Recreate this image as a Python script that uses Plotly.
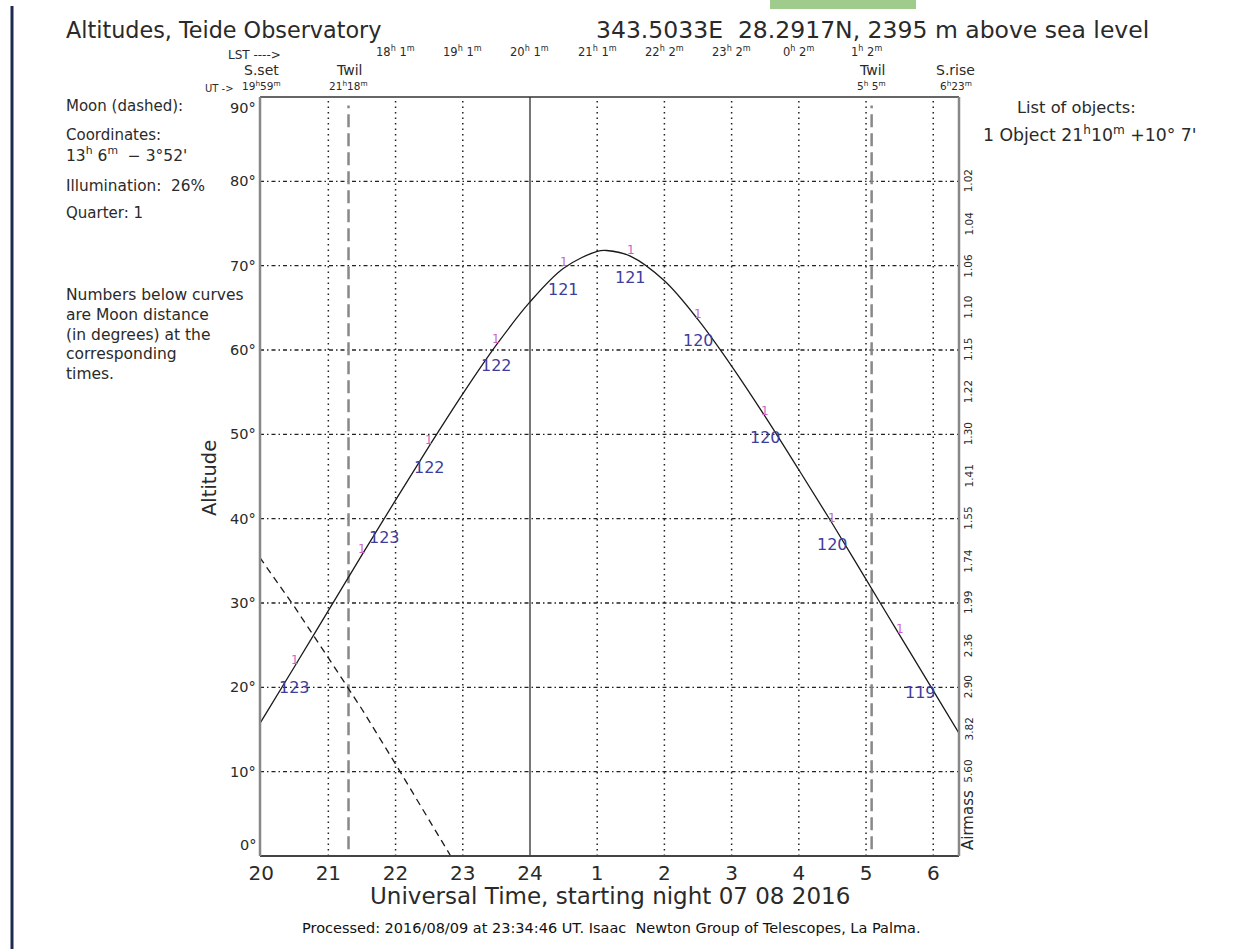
import plotly.graph_objects as go

# ---------------- data ----------------
obj_ut = [19.98, 20.5, 21, 21.5, 22, 22.5, 23, 23.5, 24, 24.5, 25, 25.14,
          25.5, 26, 26.5, 27, 27.5, 28, 28.5, 29, 29.5, 30, 30.38]
obj_alt = [15.7, 22.5, 29.1, 35.7, 42.2, 48.6, 54.8, 60.6, 65.7, 69.7, 71.7, 71.8,
           71.1, 68.2, 63.6, 58.1, 52.1, 45.8, 39.4, 32.8, 26.2, 19.6, 14.6]

moon_ut = [19.98, 20.5, 21, 21.5, 22, 22.5, 22.82]
moon_alt = [35.4, 29.5, 23.5, 17.4, 10.9, 4.3, 0.0]

label_ut = [20.5, 21.5, 22.5, 23.5, 24.5, 25.5, 26.5, 27.5, 28.5, 29.5]
label_alt = [22.5, 35.7, 48.6, 60.6, 69.7, 71.1, 63.6, 52.1, 39.4, 26.2]
moon_dist = [123, 123, 122, 122, 121, 121, 120, 120, 120, 119]

x_ticks = [20, 21, 22, 23, 24, 25, 26, 27, 28, 29, 30]
x_tick_text = ["20", "21", "22", "23", "24", "1", "2", "3", "4", "5", "6"]
y_ticks = [0, 10, 20, 30, 40, 50, 60, 70, 80, 90]
y_tick_text = ["0\u00b0", "10\u00b0", "20\u00b0", "30\u00b0", "40\u00b0",
               "50\u00b0", "60\u00b0", "70\u00b0", "80\u00b0", "90\u00b0"]

lst_ut = [22, 23, 24, 25, 26, 27, 28, 29]
lst_text = ["18<sup>h</sup> 1<sup>m</sup>", "19<sup>h</sup> 1<sup>m</sup>",
            "20<sup>h</sup> 1<sup>m</sup>", "21<sup>h</sup> 1<sup>m</sup>",
            "22<sup>h</sup> 2<sup>m</sup>", "23<sup>h</sup> 2<sup>m</sup>",
            "0<sup>h</sup> 2<sup>m</sup>", "1<sup>h</sup> 2<sup>m</sup>"]

twil_ut = [21.3, 29.083]
sun_set_ut = 19.983
sun_rise_ut = 30.383

airmass_alt = [80, 75, 70, 65, 60, 55, 50, 45, 40, 35, 30, 25, 20, 15, 10]
airmass_lbl = ["1.02", "1.04", "1.06", "1.10", "1.15", "1.22", "1.30", "1.41",
               "1.55", "1.74", "1.99", "2.36", "2.90", "3.82", "5.60"]

# ---------------- layout geometry ----------------
W, H = 1243, 949
L, R, T, B = 260, 959, 97, 856
FONT = "DejaVu Sans"
INK = "#2a2a2a"


def px(X):
    return (X - L) / (R - L)


def py(Y):
    return (B - Y) / (B - T)


fig = go.Figure()

fig.add_trace(go.Scatter(x=obj_ut, y=obj_alt, mode="lines", line_shape="spline",
                         line=dict(color="#1a1a1a", width=1.3), hoverinfo="skip",
                         showlegend=False))
fig.add_trace(go.Scatter(x=moon_ut, y=moon_alt, mode="lines",
                         line=dict(color="#1a1a1a", width=1.3, dash="7px,5px"),
                         hoverinfo="skip", showlegend=False))

shapes = []
# horizontal dash-dot grid
for yv in y_ticks[1:-1]:
    shapes.append(dict(type="line", xref="paper", yref="y", x0=0, x1=1, y0=yv, y1=yv,
                       line=dict(color="#222", width=1.4, dash="4px,3px,1.5px,3px"), layer="below"))
# vertical dotted grid
for xv in x_ticks[1:]:
    if xv == 24:
        shapes.append(dict(type="line", xref="x", yref="paper", x0=xv, x1=xv, y0=0, y1=1,
                           line=dict(color="#777", width=2), layer="below"))
    else:
        shapes.append(dict(type="line", xref="x", yref="paper", x0=xv, x1=xv, y0=0, y1=1,
                           line=dict(color="#222", width=1.5, dash="1.5px,4px"), layer="below"))
# twilight lines
for xv in twil_ut:
    shapes.append(dict(type="line", xref="x", yref="y", x0=xv, x1=xv, y0=0.8, y1=89,
                       line=dict(color="#888", width=2.5, dash="13px,6px"), layer="below"))
# frame
shapes.append(dict(type="line", xref="paper", yref="paper", x0=0, x1=1, y0=1, y1=1,
                   line=dict(color="#333", width=1.6)))
shapes.append(dict(type="line", xref="paper", yref="paper", x0=0, x1=1, y0=0, y1=0,
                   line=dict(color="#444", width=2)))
shapes.append(dict(type="line", xref="paper", yref="paper", x0=0, x1=0, y0=0, y1=1,
                   line=dict(color="#888", width=2.5)))
shapes.append(dict(type="line", xref="paper", yref="paper", x0=1, x1=1, y0=0, y1=1,
                   line=dict(color="#888", width=2.5)))
# screenshot artefacts: dark left border line and green tab at top
shapes.append(dict(type="line", xref="paper", yref="paper", x0=px(12), x1=px(12), y0=py(949), y1=py(6),
                   line=dict(color="#1d2b4f", width=3)))
shapes.append(dict(type="rect", xref="paper", yref="paper", x0=px(770), x1=px(916), y0=py(9), y1=py(0),
                   fillcolor="#9fcb8c", line=dict(width=0)))

ann = []


def text(X, Y, s, size=13, xanchor="left", yanchor="middle", color=INK, angle=0):
    ann.append(dict(x=px(X), y=py(Y), xref="paper", yref="paper", text=s, showarrow=False,
                    xanchor=xanchor, yanchor=yanchor, textangle=angle,
                    font=dict(family=FONT, size=size, color=color)))


# titles
text(64, 30, "Altitudes, Teide Observatory", size=22.3)
text(594, 30, "343.5033E  28.2917N, 2395 m above sea level", size=23.5)
text(226, 55, "LST ---->", size=12)
for u, s in zip(lst_ut, lst_text):
    ann.append(dict(x=u, y=py(52), xref="x", yref="paper", text=s, showarrow=False,
                    xanchor="center", yanchor="middle", font=dict(family=FONT, size=11.5, color=INK)))
# sun / twilight labels
top_marks = [(sun_set_ut + 0.02, "S.set", "19<sup>h</sup>59<sup>m</sup>"),
             (twil_ut[0], "Twil", "21<sup>h</sup>18<sup>m</sup>"),
             (twil_ut[1], "Twil", "5<sup>h</sup> 5<sup>m</sup>"),
             (sun_rise_ut - 0.05, "S.rise", "6<sup>h</sup>23<sup>m</sup>")]
for u, a, b in top_marks:
    ann.append(dict(x=u, y=py(70), xref="x", yref="paper", text=a, showarrow=False,
                    xanchor="center", yanchor="middle", font=dict(family=FONT, size=14, color=INK)))
    ann.append(dict(x=u, y=py(86), xref="x", yref="paper", text=b, showarrow=False,
                    xanchor="center", yanchor="middle", font=dict(family=FONT, size=10.5, color=INK)))
text(236, 88, "UT ->", size=10, xanchor="right")

# y tick labels (degrees)
for v, s in zip(y_ticks, y_tick_text):
    ya = "top" if v == 90 else ("bottom" if v == 0 else "middle")
    ann.append(dict(x=px(258), y=v, xref="paper", yref="y", text=s, showarrow=False,
                    xanchor="right", yanchor=ya, yshift=(-1 if v == 90 else (1 if v == 0 else 0)),
                    font=dict(family=FONT, size=14.5, color=INK)))

# left info block
text(64, 106, "Moon (dashed):", size=15)
text(64, 135, "Coordinates:", size=15)
text(64, 155, "13<sup>h</sup> 6<sup>m</sup>  \u2212 3\u00b052'", size=15.5)
text(64, 186, "Illumination:  26%", size=15.3)
text(64, 213, "Quarter: 1", size=15)
for i, line in enumerate(["Numbers below curves", "are Moon distance", "(in degrees) at the",
                          "corresponding", "times."]):
    text(64, 295 + i * 19.8, line, size=15.5)

# right info block
text(1015, 107, "List of objects:", size=16.3)
text(981, 134, "1 Object 21<sup>h</sup>10<sup>m</sup> +10\u00b0 7'", size=17.3)

# object / moon distance labels on the curve
num_offsets = [(0, -21), (23, 17), (0, -21), (0, -21), (0, -21),
               (0, -21), (0, -21), (0, -21), (0, -21), (21, -57)]
for u, a, d, (dx, dy) in zip(label_ut, label_alt, moon_dist, num_offsets):
    ann.append(dict(x=u, y=a, xref="x", yref="y", text="1", showarrow=False,
                    xanchor="center", yanchor="middle", yshift=6,
                    font=dict(family=FONT, size=12, color="#cc5fcc")))
    ann.append(dict(x=u, y=a, xref="x", yref="y", text=str(d), showarrow=False,
                    xanchor="center", yanchor="middle", xshift=dx, yshift=dy,
                    font=dict(family=FONT, size=16, color="#3d3d9e")))

# airmass scale on the right
for a, s in zip(airmass_alt, airmass_lbl):
    ann.append(dict(x=px(968), y=a, xref="paper", yref="y", text=s, showarrow=False,
                    xanchor="center", yanchor="middle", textangle=-90,
                    font=dict(family=FONT, size=10.5, color=INK)))
text(968, 820, "Airmass", size=15, xanchor="center", angle=-90)

# axis titles and footer
text(209, 478, "Altitude", size=19.5, xanchor="center", angle=-90)
text(610, 896, "Universal Time, starting night 07 08 2016", size=23, xanchor="center")
text(611, 928, "Processed: 2016/08/09 at 23:34:46 UT. Isaac  Newton Group of Telescopes, La Palma.",
     size=14.5, xanchor="center", color="#111")

fig.update_layout(
    width=W, height=H, autosize=False,
    margin=dict(l=L, r=W - R, t=T, b=H - B, pad=0),
    paper_bgcolor="white", plot_bgcolor="white",
    shapes=shapes, annotations=ann, showlegend=False,
    xaxis=dict(range=[sun_set_ut, sun_rise_ut], tickvals=x_ticks, ticktext=x_tick_text,
               showgrid=False, zeroline=False, showline=False, ticks="",
               tickfont=dict(family=FONT, size=20, color=INK), ticklabelstandoff=3),
    yaxis=dict(range=[0, 90], showticklabels=False,
               showgrid=False, zeroline=False, showline=False, ticks=""),
)

fig.write_html("out.html")
